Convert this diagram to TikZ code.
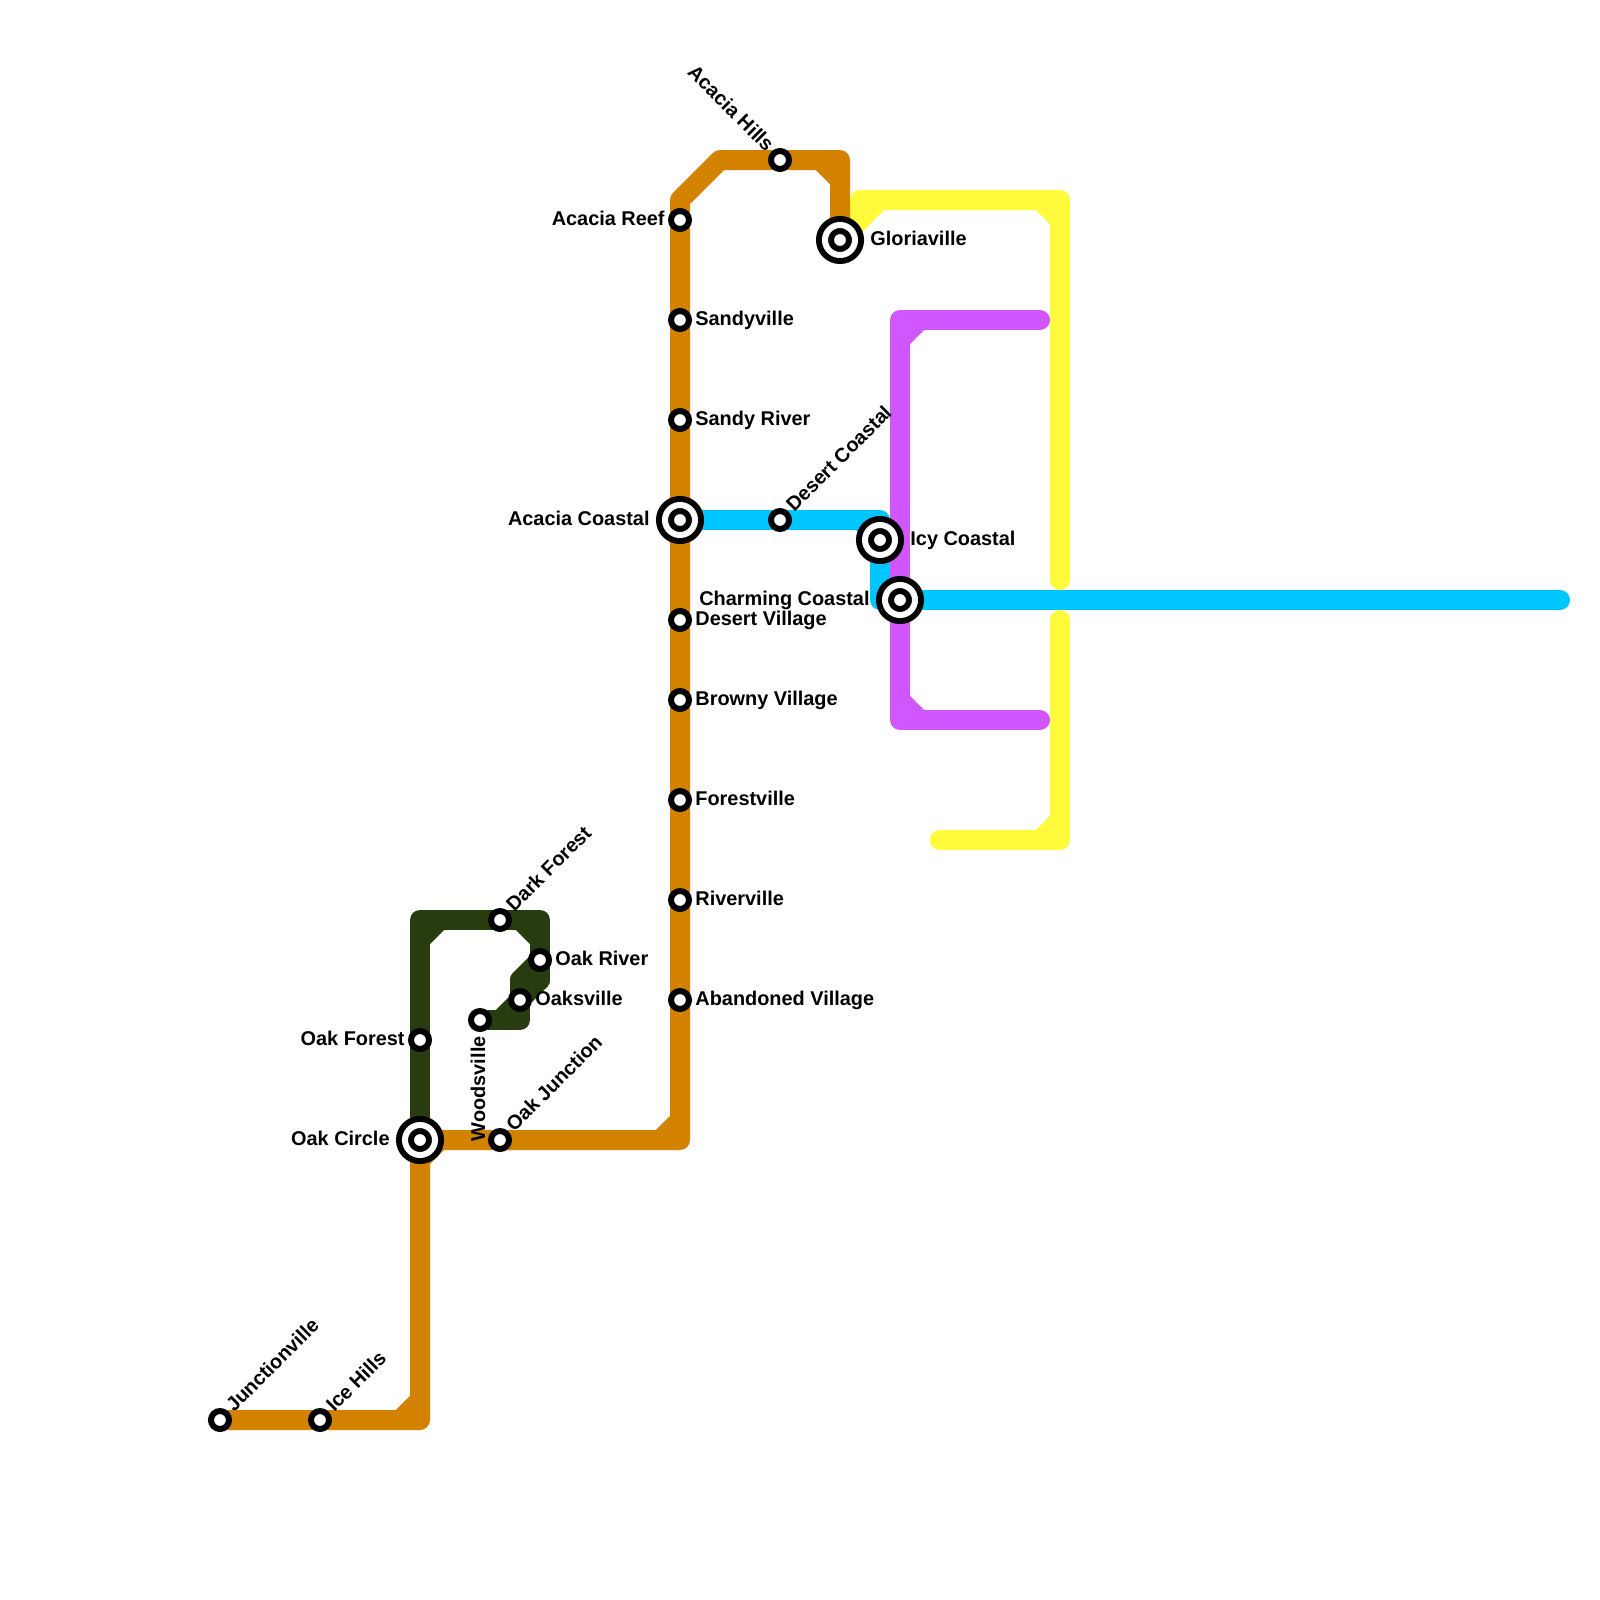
\documentclass[tikz,border=0pt]{standalone}
\usepackage{fontspec}
\setsansfont{Liberation Sans}
\usepackage{xcolor}
\usetikzlibrary{backgrounds,calc,positioning}
\definecolor{lineorange}{HTML}{D38200}
\definecolor{lineyellow}{HTML}{FFFB3C}
\definecolor{lineblue}{HTML}{00C6FF}
\definecolor{linepurple}{HTML}{D056FF}
\definecolor{linegreen}{HTML}{283C10}
\begin{document}
\begin{tikzpicture}[
    x=0.5pt, y=-0.5pt,
    font=\sffamily\bfseries\fontsize{9.95}{12}\selectfont,
    station/.style={circle, draw=black, fill=white, line width=3pt, inner sep=0pt, outer sep=0pt, minimum size=9pt},
    interchange/.style={station, double=white, double distance=3pt, minimum size=15pt},
    stationname/.style={inner sep=0pt, text height=7.5pt, text depth=2.5pt},
    tiltname/.style={inner sep=0pt, anchor=base west, rotate=45},
    route/.style={line width=10pt, line cap=round, line join=round},
    orangeroute/.style={route, draw=lineorange},
    yellowroute/.style={route, draw=lineyellow},
    blueroute/.style={route, draw=lineblue},
    purpleroute/.style={route, draw=linepurple},
    greenroute/.style={route, draw=linegreen}
]
\useasboundingbox (0,0) rectangle (1600,1600);
% stations
\node[station] (junctionville) at (220,1420) {};
\node[station] (icehills) at (320,1420) {};
\node[interchange] (oakcircle) at (420,1140) {};
\node[station] (oakjunction) at (500,1140) {};
\node[station] (abandoned) at (680,1000) {};
\node[station] (riverville) at (680,900) {};
\node[station] (forestville) at (680,800) {};
\node[station] (browny) at (680,700) {};
\node[station] (desertvillage) at (680,620) {};
\node[interchange] (acaciacoastal) at (680,520) {};
\node[station] (sandyriver) at (680,420) {};
\node[station] (sandyville) at (680,320) {};
\node[station] (acaciareef) at (680,220) {};
\node[station] (acaciahills) at (780,160) {};
\node[interchange] (gloriaville) at (840,240) {};
\node[station] (desertcoastal) at (780,520) {};
\node[interchange] (icycoastal) at (880,540) {};
\node[interchange] (charmingcoastal) at (900,600) {};
\node[station] (oakforest) at (420,1040) {};
\node[station] (darkforest) at (500,920) {};
\node[station] (oakriver) at (540,960) {};
\node[station] (oaksville) at (520,1000) {};
\node[station] (woodsville) at (480,1020) {};
% bends
\coordinate (oa) at (420,1420);
\coordinate (ob) at (680,1140);
\coordinate (oc) at (680,200);
\coordinate (od) at (720,160);
\coordinate (oe) at (840,160);
\coordinate (ya) at (860,220);
\coordinate (yb) at (860,200);
\coordinate (yc) at (1060,200);
\coordinate (yd) at (1060,580);
\coordinate (ye) at (1060,620);
\coordinate (yf) at (1060,840);
\coordinate (yg) at (940,840);
\coordinate (ba) at (880,520);
\coordinate (bb) at (880,600);
\coordinate (bc) at (1560,600);
\coordinate (pa) at (1040,320);
\coordinate (pb) at (900,320);
\coordinate (pc) at (900,720);
\coordinate (pd) at (1040,720);
\coordinate (ga) at (420,920);
\coordinate (gb) at (540,920);
\coordinate (gc) at (540,980);
\coordinate (gd) at (520,980);
\coordinate (ge) at (520,1020);
\begin{scope}[on background layer]
\draw[yellowroute] (gloriaville.center) -- (ya) -- (yb) -- (yc) -- (yd);
\draw[yellowroute] (ye) -- (yf) -- (yg);
\foreach \prev/\corner/\next in {ya/yb/yc, yb/yc/yd, ye/yf/yg}
    \draw[yellowroute] ($(\corner)!10pt!(\prev)$) -- ($(\corner)!10pt!(\next)$);
\draw[blueroute] (acaciacoastal.center) -- (ba) -- (icycoastal.center) -- (bb) -- (charmingcoastal.center) -- (bc);
\foreach \prev/\corner/\next in {desertcoastal/ba/icycoastal, icycoastal/bb/charmingcoastal}
    \draw[blueroute] ($(\corner)!10pt!(\prev)$) -- ($(\corner)!10pt!(\next)$);
\draw[purpleroute] (pa) -- (pb) -- (pc) -- (pd);
\foreach \prev/\corner/\next in {pa/pb/pc, pb/pc/pd}
    \draw[purpleroute] ($(\corner)!10pt!(\prev)$) -- ($(\corner)!10pt!(\next)$);
\draw[orangeroute] (junctionville.center) -- (oa) -- (oakcircle.center) -- (ob) -- (oc) -- (od) -- (oe) -- (gloriaville.center);
\foreach \prev/\corner/\next in {icehills/oa/oakforest, oa/oakcircle/oakjunction, oakjunction/ob/oc, od/oe/gloriaville}
    \draw[orangeroute] ($(\corner)!10pt!(\prev)$) -- ($(\corner)!10pt!(\next)$);
\draw[greenroute] (oakcircle.center) -- (ga) -- (gb) -- (gc) -- (gd) -- (ge) -- (woodsville.center);
\foreach \prev/\corner/\next in {oakforest/ga/gb, ga/gb/gc, gb/gc/gd, gc/gd/ge, gd/ge/woodsville}
    \draw[greenroute] ($(\corner)!10pt!(\prev)$) -- ($(\corner)!10pt!(\next)$);
\end{scope}
% names
\node[stationname, left=3pt of acaciareef] (acaciareefname) {Acacia Reef};
\node[stationname, right=3pt of sandyville] (sandyvillename) {Sandyville};
\node[stationname, right=3pt of sandyriver] (sandyrivername) {Sandy River};
\node[stationname, left=7.5pt of acaciacoastal] (acaciacoastalname) {Acacia Coastal};
\node[stationname, right=3pt of desertvillage] (desertvillagename) {Desert Village};
\node[stationname, right=3pt of browny] (brownyname) {Browny Village};
\node[stationname, right=3pt of forestville] (forestvillename) {Forestville};
\node[stationname, right=3pt of riverville] (rivervillename) {Riverville};
\node[stationname, right=3pt of abandoned] (abandonedname) {Abandoned Village};
\node[stationname, right=7.5pt of gloriaville] (gloriavillename) {Gloriaville};
\node[stationname, right=7.5pt of icycoastal] (icycoastalname) {Icy Coastal};
\node[stationname, left=7.5pt of charmingcoastal] (charmingcoastalname) {Charming Coastal};
\node[stationname, right=3pt of oakriver] (oakrivername) {Oak River};
\node[stationname, right=3pt of oaksville] (oaksvillename) {Oaksville};
\node[stationname, left=3pt of oakforest] (oakforestname) {Oak Forest};
\node[stationname, left=7.5pt of oakcircle] (oakcirclename) {Oak Circle};
\node[tiltname] (junctionvillename) at ($(junctionville)+(14,-7)$) {Junctionville};
\node[tiltname] (icehillsname) at ($(icehills)+(14,-7)$) {Ice Hills};
\node[tiltname] (oakjunctionname) at ($(oakjunction)+(14,-7)$) {Oak Junction};
\node[tiltname] (darkforestname) at ($(darkforest)+(14,-7)$) {Dark Forest};
\node[tiltname] (desertcoastalname) at ($(desertcoastal)+(14,-7)$) {Desert Coastal};
\node[inner sep=0pt, anchor=base east, rotate=-45] (acaciahillsname) at ($(acaciahills)+(-14,-7)$) {Acacia Hills};
\node[inner sep=0pt, anchor=base east, rotate=90] (woodsvillename) at ($(woodsville)+(5,16)$) {Woodsville};
\end{tikzpicture}
\end{document}
